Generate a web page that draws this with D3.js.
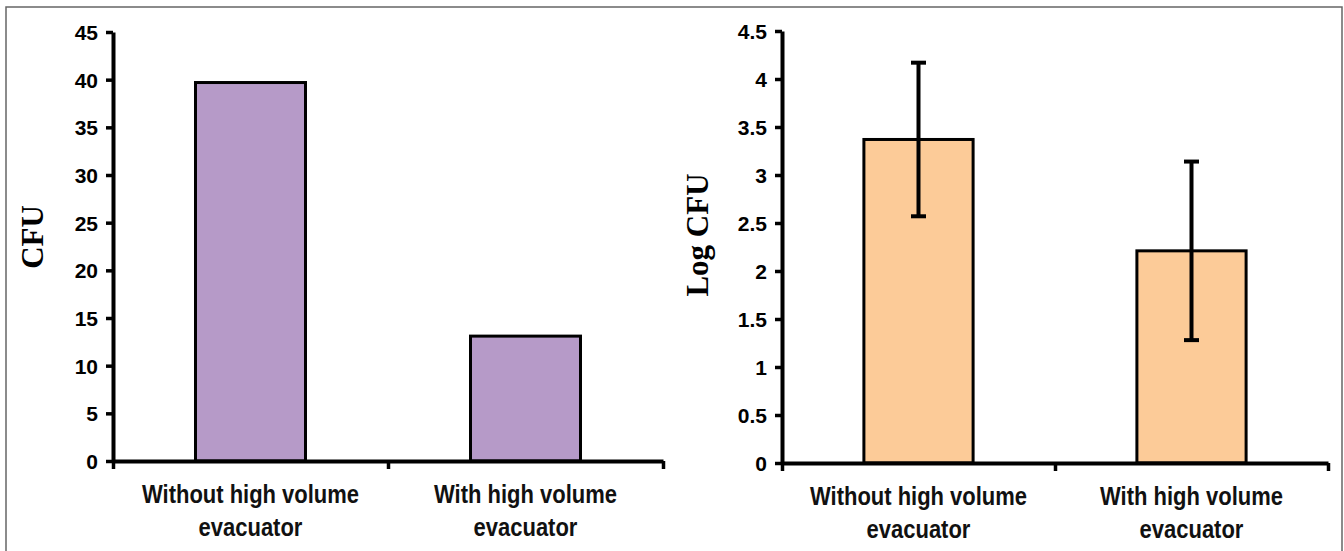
<!DOCTYPE html>
<html>
<head>
<meta charset="utf-8">
<script src="https://cdn.jsdelivr.net/npm/d3@7"></script>
<style>
  html, body { margin: 0; padding: 0; background: #fff; }
  svg { display: block; }
</style>
</head>
<body>
<svg id="chart" width="1344" height="551"></svg>
<script>
// ---- data ----
const categories = ["Without high volume|evacuator", "With high volume|evacuator"];
const cfuValues = [39.7, 13.1];
const logCfuValues = [3.37, 2.21];
const logCfuErrors = [0.8, 0.93];
const cfuTicks = [0, 5, 10, 15, 20, 25, 30, 35, 40, 45];
const logCfuTicks = [0, 0.5, 1, 1.5, 2, 2.5, 3, 3.5, 4, 4.5];

const svg = d3.select("#chart");

// frame
svg.append("path")
  .attr("d", "M6,551 L6,7 L1342,7 L1342,551")
  .attr("fill", "none").attr("stroke", "#666").attr("stroke-width", 1.5);

const labelNodes = [];

function panel(opts) {
  const g = svg.append("g");
  const x = d3.scaleBand().domain(categories).range([opts.x0, opts.x1])
    .paddingInner(0.6).paddingOuter(0.3);
  const y = d3.scaleLinear().domain([0, opts.max]).range([opts.y0, opts.y1]);

  // bars
  g.selectAll("rect.bar").data(opts.values).enter().append("rect")
    .attr("x", (d, i) => x(categories[i]))
    .attr("width", x.bandwidth())
    .attr("y", d => y(d))
    .attr("height", d => y(0) - y(d))
    .attr("fill", opts.fill)
    .attr("stroke", "#000").attr("stroke-width", 3);

  // error bars
  if (opts.errors) {
    const cap = 7.5;
    opts.values.forEach((v, i) => {
      const cx = x(categories[i]) + x.bandwidth() / 2;
      const e = opts.errors[i];
      g.append("line").attr("x1", cx).attr("x2", cx)
        .attr("y1", y(v + e)).attr("y2", y(v - e))
        .attr("stroke", "#000").attr("stroke-width", 4);
      [v + e, v - e].forEach(t => {
        g.append("line").attr("x1", cx - cap).attr("x2", cx + cap)
          .attr("y1", y(t)).attr("y2", y(t))
          .attr("stroke", "#000").attr("stroke-width", 4);
      });
    });
  }

  // y axis
  const ya = g.append("g").attr("transform", `translate(${opts.x0},0)`)
    .call(d3.axisLeft(y).tickValues(opts.ticks).tickSize(7).tickSizeOuter(0)
      .tickPadding(8).tickFormat(d => String(d)));
  ya.select(".domain").attr("stroke", "#000").attr("stroke-width", 4);
  ya.selectAll(".tick line").attr("stroke", "#000").attr("stroke-width", 3.5);
  ya.selectAll(".tick text")
    .attr("font-family", "'Liberation Sans', Arial, sans-serif")
    .attr("font-weight", "bold").attr("font-size", 21).attr("fill", "#000")
    .attr("dy", "0.36em");

  // x axis
  const xl = d3.scaleLinear().domain([0, categories.length]).range([opts.x0, opts.x1]);
  const xa = g.append("g").attr("transform", `translate(0,${opts.y0})`)
    .call(d3.axisBottom(xl).tickValues(d3.range(categories.length + 1))
      .tickSize(8).tickSizeOuter(0).tickFormat(""));
  xa.select(".domain").attr("stroke", "#000").attr("stroke-width", 4);
  xa.selectAll(".tick line").attr("stroke", "#000").attr("stroke-width", 3.5);

  // category labels
  categories.forEach(c => {
    const cx = x(c) + x.bandwidth() / 2;
    c.split("|").forEach((line, li) => {
      const t = g.append("text")
        .attr("x", cx).attr("y", opts.y0 + 42 + li * 33)
        .attr("text-anchor", "middle")
        .attr("font-family", "'Liberation Sans Narrow', 'Arial Narrow', 'Liberation Sans', Arial, sans-serif")
        .attr("font-weight", "bold").attr("font-size", 25).attr("fill", "#111")
        .text(line);
      labelNodes.push(t);
    });
  });

  // y label
  g.append("text")
    .attr("transform", `translate(${opts.labelX},${opts.labelY}) rotate(-90)`)
    .attr("text-anchor", "middle")
    .attr("font-family", "'Liberation Serif', 'Times New Roman', serif")
    .attr("font-weight", "bold").attr("font-size", 31).attr("fill", "#000")
    .text(opts.label);
}

panel({ x0: 113, x1: 663, y0: 461, y1: 32, max: 45, values: cfuValues,
  ticks: cfuTicks, fill: "#B69AC8", label: "CFU", labelX: 43, labelY: 237 });
panel({ x0: 782, x1: 1328, y0: 463, y1: 31, max: 4.5, values: logCfuValues,
  errors: logCfuErrors, ticks: logCfuTicks, fill: "#FCCB98", label: "Log CFU",
  labelX: 708, labelY: 235 });

// fit label widths to the reference (narrow bold face): scale by "Without high volume" width
const ref = labelNodes[0].node().getComputedTextLength();
const k = 217 / ref;
labelNodes.forEach(t => {
  const w = t.node().getComputedTextLength();
  t.attr("textLength", w * k).attr("lengthAdjust", "spacingAndGlyphs");
});
</script>
</body>
</html>
